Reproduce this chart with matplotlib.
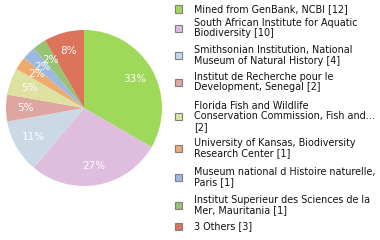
import matplotlib.pyplot as plt
from matplotlib.patches import Rectangle

labels = [
    "Mined from GenBank, NCBI [12]",
    "South African Institute for Aquatic\nBiodiversity [10]",
    "Smithsonian Institution, National\nMuseum of Natural History [4]",
    "Institut de Recherche pour le\nDevelopment, Senegal [2]",
    "Florida Fish and Wildlife\nConservation Commission, Fish and...\n[2]",
    "University of Kansas, Biodiversity\nResearch Center [1]",
    "Museum national d Histoire naturelle,\nParis [1]",
    "Institut Superieur des Sciences de la\nMer, Mauritania [1]",
    "3 Others [3]",
]
counts = [12, 10, 4, 2, 2, 1, 1, 1, 3]
colors = ["#9ED95A", "#DFBDDF", "#CBD8E6", "#DFA5A0", "#DDE2A0",
          "#F0AA6E", "#9BB9E1", "#97C373", "#DC735A"]

W, H = 380, 240
fig = plt.figure(figsize=(W / 100, H / 100), dpi=100)

# pie: centre (84,108) px, radius 78 px
cx, cy, r = 84, 108, 78
ax = fig.add_axes([(cx - r) / W, (H - cy - r) / H, 2 * r / W, 2 * r / H])
total = sum(counts)
ax.pie(counts, colors=colors, startangle=90, counterclock=False,
       autopct=lambda p: "%d%%" % int(p + 1e-9),
       pctdistance=0.75, textprops=dict(color="white", fontsize=7.5))
ax.set_xlim(-1, 1)
ax.set_ylim(-1, 1)
ax.axis("off")

# legend, first-line y of each entry in px from top
tops = [9, 23, 50, 77, 106, 143, 172, 200, 226]
step = 10.5
for lab, col, y in zip(labels, colors, tops):
    lines = lab.split("\n")
    mid = y + step * (len(lines) - 1) / 2
    fig.patches.append(Rectangle((175 / W, 1 - (mid + 3.5) / H), 7 / W, 7 / H,
                                 transform=fig.transFigure, facecolor=col,
                                 edgecolor="#7f7f7f", linewidth=0.8))
    for k, line in enumerate(lines):
        fig.text(194 / W, 1 - (y + k * step) / H, line, fontsize=6.9,
                 va="center", ha="left", color="#111111")

fig.savefig("out.png", dpi=100)
